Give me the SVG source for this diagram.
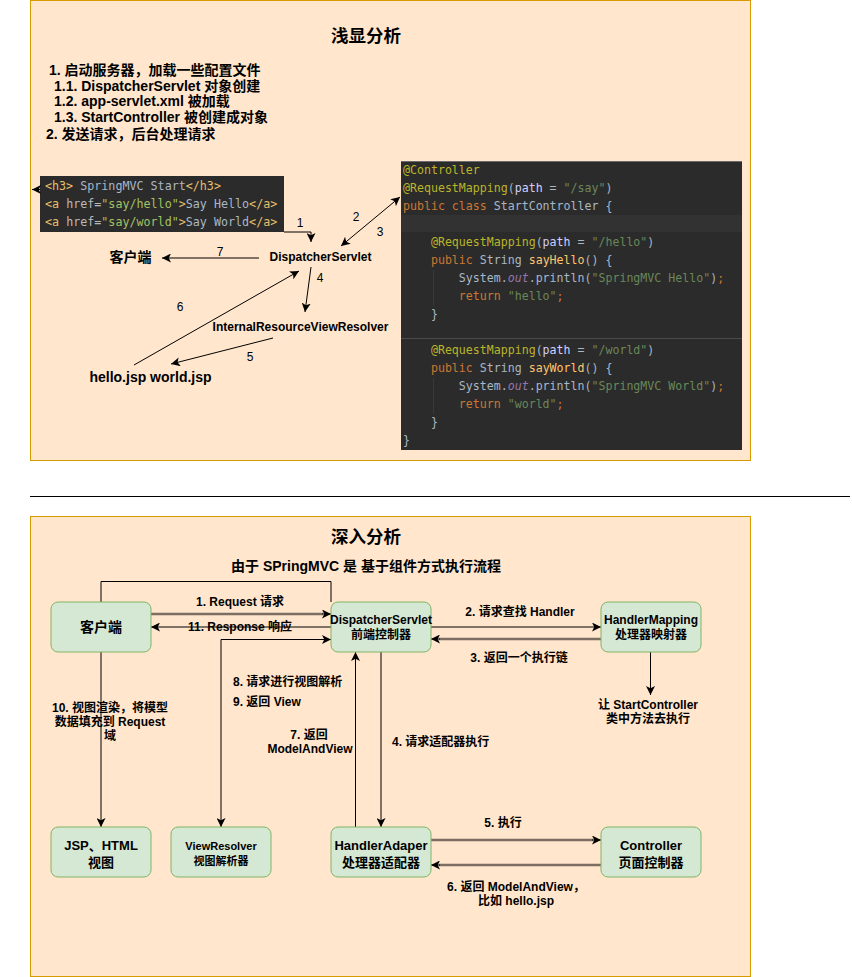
<svg xmlns="http://www.w3.org/2000/svg" width="852" height="977" viewBox="0 0 852 977">
<style>
text{font-family:"Liberation Sans","Noto Sans CJK SC",sans-serif;fill:#000}
.b{font-weight:bold}
.c{text-anchor:middle}
.t{font-size:17.5px;font-weight:bold;text-anchor:middle}
.l12{font-size:12px;font-weight:bold}
.n{font-size:12px}
.code{font-family:"DejaVu Sans Mono","Liberation Mono",monospace;font-size:11.6px;fill:#A9B7C6}
.hc{font-family:"DejaVu Sans Mono","Liberation Mono",monospace;font-size:11.7px;fill:#A9B7C6}
.an{fill:#BBB529}.kw{fill:#CC7832}.st{fill:#6A8759}.pm{fill:#D0D0FF}.fn{fill:#FFC66D}.fd{fill:#9876AA;font-style:italic}
.tg{fill:#E8BF6A}.at{fill:#BABABA}.av{fill:#A5C261}
.sec{fill:#FFE6CC;stroke:#D79B00;stroke-width:1}
.node rect{fill:#D5E8D4;stroke:#82B366;stroke-width:1}
.e{fill:none;stroke:#000;stroke-width:1}
.g{fill:none;stroke:#7D6E63;stroke-width:2.5}
.ah{marker-end:url(#arr)}
.as{marker-start:url(#arr)}
</style>
<defs>
<marker id="arr" viewBox="0 0 10 10" refX="10" refY="5" markerWidth="9" markerHeight="9" markerUnits="userSpaceOnUse" orient="auto-start-reverse">
<path d="M0,0 L10,5 L0,10 L2.5,5 z" fill="#000"/>
</marker>
</defs>

<!-- Section 1 -->
<g id="section-shallow">
<rect class="sec" x="30.5" y="0.5" width="720" height="460"/>
<text class="t" x="366" y="42">浅显分析</text>
<text class="b" font-size="14" x="49" y="75">1. 启动服务器，加载一些配置文件</text>
<text class="b" font-size="14" x="54" y="91">1.1. DispatcherServlet 对象创建</text>
<text class="b" font-size="14" x="54" y="106">1.2. app-servlet.xml 被加载</text>
<text class="b" font-size="14" x="54" y="122">1.3. StartController 被创建成对象</text>
<text class="b" font-size="14" x="46" y="139">2. 发送请求，后台处理请求</text>
</g>

<g id="html-code">
<rect x="40" y="176" width="244" height="56" fill="#2B2B2B"/>
<text class="hc" x="45" y="190" xml:space="preserve"><tspan class="tg">&lt;h3&gt;</tspan> SpringMVC Start<tspan class="tg">&lt;/h3&gt;</tspan></text>
<text class="hc" x="45" y="208" xml:space="preserve"><tspan class="tg">&lt;a </tspan><tspan class="at">href=</tspan><tspan class="av">"say/hello"</tspan><tspan class="tg">&gt;</tspan>Say Hello<tspan class="tg">&lt;/a&gt;</tspan></text>
<text class="hc" x="45" y="226" xml:space="preserve"><tspan class="tg">&lt;a </tspan><tspan class="at">href=</tspan><tspan class="av">"say/world"</tspan><tspan class="tg">&gt;</tspan>Say World<tspan class="tg">&lt;/a&gt;</tspan></text>
</g>

<g id="java-code">
<rect x="401" y="161" width="341" height="289" fill="#2B2B2B"/>
<line x1="401" y1="161.5" x2="742" y2="161.5" stroke="#6B6B6B"/>
<rect x="401" y="215" width="341" height="17" fill="#323232"/>
<line x1="401" y1="338.5" x2="742" y2="338.5" stroke="#4A4A4A"/>
<line x1="433.5" y1="270" x2="433.5" y2="306" stroke="#3A3A3A"/>
<line x1="433.5" y1="378" x2="433.5" y2="414" stroke="#3A3A3A"/>
<text class="code" x="403" y="174" xml:space="preserve"><tspan class="an">@Controller</tspan></text>
<text class="code" x="403" y="192" xml:space="preserve"><tspan class="an">@RequestMapping</tspan>(<tspan class="pm">path</tspan> = <tspan class="st">"/say"</tspan>)</text>
<text class="code" x="403" y="210" xml:space="preserve"><tspan class="kw">public class </tspan>StartController {</text>
<text class="code" x="403" y="246" xml:space="preserve">    <tspan class="an">@RequestMapping</tspan>(<tspan class="pm">path</tspan> = <tspan class="st">"/hello"</tspan>)</text>
<text class="code" x="403" y="264" xml:space="preserve">    <tspan class="kw">public </tspan>String <tspan class="fn">sayHello</tspan>() {</text>
<text class="code" x="403" y="282" xml:space="preserve">        System.<tspan class="fd">out</tspan>.println(<tspan class="st">"SpringMVC Hello"</tspan>)<tspan class="kw">;</tspan></text>
<text class="code" x="403" y="300" xml:space="preserve">        <tspan class="kw">return </tspan><tspan class="st">"hello"</tspan><tspan class="kw">;</tspan></text>
<text class="code" x="403" y="318" xml:space="preserve">    }</text>
<text class="code" x="403" y="354" xml:space="preserve">    <tspan class="an">@RequestMapping</tspan>(<tspan class="pm">path</tspan> = <tspan class="st">"/world"</tspan>)</text>
<text class="code" x="403" y="372" xml:space="preserve">    <tspan class="kw">public </tspan>String <tspan class="fn">sayWorld</tspan>() {</text>
<text class="code" x="403" y="390" xml:space="preserve">        System.<tspan class="fd">out</tspan>.println(<tspan class="st">"SpringMVC World"</tspan>)<tspan class="kw">;</tspan></text>
<text class="code" x="403" y="408" xml:space="preserve">        <tspan class="kw">return </tspan><tspan class="st">"world"</tspan><tspan class="kw">;</tspan></text>
<text class="code" x="403" y="426" xml:space="preserve">    }</text>
<text class="code" x="403" y="444" xml:space="preserve">}</text>
</g>

<g id="top-labels">
<text class="b c" font-size="12" x="320.5" y="261">DispatcherServlet</text>
<text class="b c" font-size="14" x="130.5" y="262">客户端</text>
<text class="b c" font-size="12" x="300.5" y="331">InternalResourceViewResolver</text>
<text class="b c" font-size="14" x="150.5" y="382">hello.jsp world.jsp</text>
</g>

<g id="top-connectors">
<path class="e ah" d="M40,189.5 H32"/>
<path class="e ah" d="M284,232 H311 V242"/>
<path class="e ah as" d="M341,246 L400,197"/>
<path class="e ah" d="M259,258 L162,258"/>
<path class="e ah" d="M311,267 L305,312"/>
<path class="e ah" d="M273,338 L171,364"/>
<path class="e ah" d="M134,365 L299,271"/>
<text class="n c" x="300" y="227">1</text>
<text class="n c" x="356" y="221">2</text>
<text class="n c" x="380" y="236">3</text>
<text class="n c" x="320" y="282">4</text>
<text class="n c" x="250" y="361">5</text>
<text class="n c" x="180" y="311">6</text>
<text class="n c" x="220" y="256">7</text>
</g>

<line x1="30" y1="496.5" x2="850" y2="496.5" stroke="#000" stroke-width="1"/>

<!-- Section 2 -->
<g id="section-deep">
<rect class="sec" x="30.5" y="516.5" width="720" height="460"/>
<text class="t" x="366" y="543">深入分析</text>
<text class="b" font-size="14" x="231" y="571">由于 SPringMVC 是 基于组件方式执行流程</text>
</g>

<g id="bottom-connectors">
<path class="g" d="M151,614 H323"/>
<path class="e ah" d="M322,614 H331"/>
<path class="e ah" d="M331,627 H151"/>
<path class="e ah" d="M331,602 V581.5 H101 V827"/>
<path class="e ah as" d="M221,827 V639.5 H331"/>
<path class="e ah" d="M355.5,827 V652"/>
<path class="e ah" d="M381,652 V827"/>
<path class="e ah" d="M431,627 H601"/>
<path class="g" d="M601,639 H439"/>
<path class="e ah" d="M440,639 H431"/>
<path class="e ah" d="M650.5,652 V695"/>
<path class="g" d="M431,840 H593"/>
<path class="e ah" d="M592,840 H601"/>
<path class="g" d="M601,865 H439"/>
<path class="e ah" d="M440,865 H431"/>
<text class="l12 c" x="240" y="606">1. Request 请求</text>
<text class="l12 c" x="240" y="631">11. Response 响应</text>
<text class="l12 c" x="520" y="616">2. 请求查找 Handler</text>
<text class="l12 c" x="519" y="662">3. 返回一个执行链</text>
<text class="l12 c" x="648" y="709">让 StartController</text>
<text class="l12 c" x="648" y="723">类中方法去执行</text>
<text class="l12 c" x="110" y="712">10. 视图渲染，将模型</text>
<text class="l12 c" x="110" y="726">数据填充到 Request</text>
<text class="l12 c" x="110" y="740">域</text>
<text class="l12" x="233" y="686">8. 请求进行视图解析</text>
<text class="l12" x="233" y="706">9. 返回 View</text>
<text class="l12 c" x="309" y="739">7. 返回</text>
<text class="l12 c" x="310" y="753">ModelAndView</text>
<text class="l12" x="392" y="746">4. 请求适配器执行</text>
<text class="l12 c" x="503" y="827">5. 执行</text>
<text class="l12 c" x="516" y="891">6. 返回 ModelAndView，</text>
<text class="l12 c" x="516" y="905">比如 hello.jsp</text>
</g>

<g id="node-client" class="node">
<rect x="51" y="602" width="100" height="50" rx="7"/>
<text class="b c" font-size="14" x="101" y="632">客户端</text>
</g>
<g id="node-dispatcher" class="node">
<rect x="331" y="602" width="100" height="50" rx="7"/>
<text class="b c" font-size="12" x="381" y="624">DispatcherServlet</text>
<text class="b c" font-size="12" x="381" y="639">前端控制器</text>
</g>
<g id="node-handlermapping" class="node">
<rect x="601" y="602" width="100" height="50" rx="7"/>
<text class="b c" font-size="12" x="651" y="624">HandlerMapping</text>
<text class="b c" font-size="12" x="651" y="639">处理器映射器</text>
</g>
<g id="node-jsp" class="node">
<rect x="51" y="827" width="100" height="50" rx="7"/>
<text class="b c" font-size="13" x="101" y="850">JSP、HTML</text>
<text class="b c" font-size="13" x="101" y="867">视图</text>
</g>
<g id="node-viewresolver" class="node">
<rect x="171" y="827" width="100" height="50" rx="7"/>
<text class="b c" font-size="11" x="221" y="850">ViewResolver</text>
<text class="b c" font-size="11" x="221" y="865">视图解析器</text>
</g>
<g id="node-handleradapter" class="node">
<rect x="331" y="827" width="100" height="50" rx="7"/>
<text class="b c" font-size="13" x="381" y="850">HandlerAdaper</text>
<text class="b c" font-size="13" x="381" y="867">处理器适配器</text>
</g>
<g id="node-controller" class="node">
<rect x="601" y="827" width="100" height="50" rx="7"/>
<text class="b c" font-size="13" x="651" y="850">Controller</text>
<text class="b c" font-size="13" x="651" y="867">页面控制器</text>
</g>
</svg>
